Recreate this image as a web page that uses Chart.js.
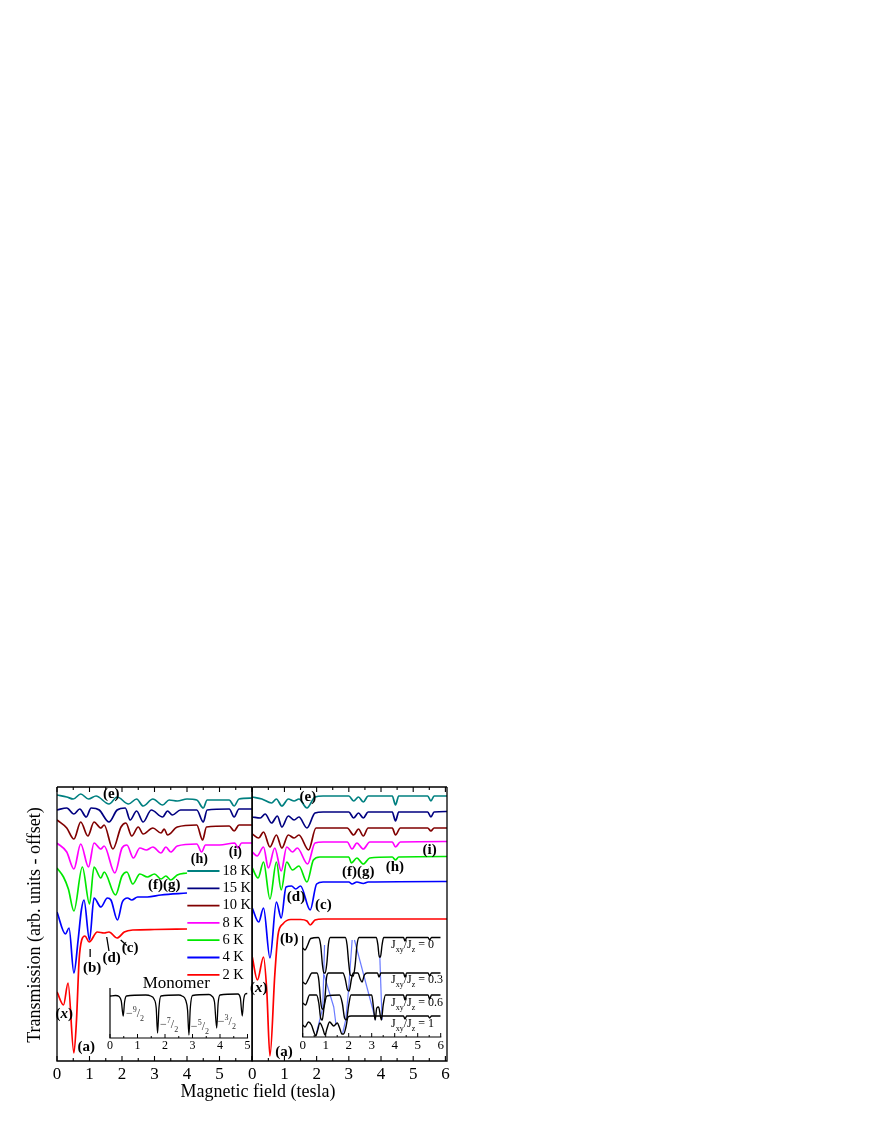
<!DOCTYPE html>
<html><head><meta charset="utf-8">
<script src="https://cdn.jsdelivr.net/npm/chart.js@4.4.1/dist/chart.umd.min.js"></script>
<style>
html,body{margin:0;padding:0;background:#fff;}
body{width:872px;height:1128px;position:relative;overflow:hidden;font-family:'Liberation Serif','Times New Roman',serif;}
canvas{position:absolute;}
#xtitle{position:absolute;left:108px;top:1081px;width:300px;height:20px;line-height:20px;text-align:center;font-size:18px;color:#000;}
#ytitle{position:absolute;left:-116px;top:915px;width:300px;height:20px;line-height:20px;text-align:center;font-size:18px;color:#000;transform:rotate(-90deg);}
</style></head>
<body>
<canvas id="cL" width="222" height="305" style="left:40px;top:780px"></canvas>
<canvas id="cR" width="212" height="305" style="left:245px;top:780px"></canvas>
<canvas id="cLi" width="160" height="92" style="left:100px;top:968px"></canvas>
<canvas id="cRi" width="160" height="125" style="left:292px;top:928px"></canvas>
<div id="xtitle">Magnetic field (tesla)</div>
<div id="ytitle">Transmission (arb. units - offset)</div>
<script>
// ---------------- DATA ----------------
const temps = ['18 K','15 K','10 K','8 K','6 K','4 K','2 K'];
// left panel (field in tesla, transmission with offset, arb. units)
const L18 = [[0,266],[0.3,264],[0.5,262],[0.73,267],[0.97,262],[1.2,265],[1.6,257],[1.85,264],[2.2,257],[2.45,262],[2.65,255],[2.95,262],[3.25,256],[3.45,261],[3.7,260],[4.0,262],[4.3,261],[4.5,253],[4.62,261],[5.3,261],[5.45,255],[5.6,262],[6,263]];
const L15 = [[0,251],[0.3,253],[0.52,247],[0.7,252],[0.9,244],[1.05,253],[1.3,251],[1.6,239],[1.85,251],[2.1,253],[2.25,241],[2.45,250],[2.65,239],[2.9,251],[3.25,244],[3.4,250],[3.55,246],[3.8,251],[4.3,251],[4.5,239],[4.62,251],[5.3,252],[5.45,244],[5.6,252],[6,252]];
const L10 = [[0,241],[0.3,233],[0.52,222],[0.73,239],[0.95,225],[1.14,239],[1.35,233],[1.45,236],[1.72,212],[1.97,234],[2.12,238],[2.3,225],[2.5,234],[2.65,227],[2.95,233],[3.2,228],[3.3,232],[3.4,226],[3.7,234],[4.3,236],[4.48,221],[4.6,234],[5.3,235],[5.45,230],[5.6,236],[6,236]];
const L8 = [[0,218],[0.3,209],[0.52,192],[0.73,217],[0.97,194],[1.14,218],[1.35,212],[1.45,215],[1.78,188],[2.0,213],[2.15,216],[2.35,203],[2.55,213],[2.75,211],[2.95,214],[3.2,208],[3.35,214],[3.5,209],[3.7,215],[4.3,217],[4.45,209],[4.57,216],[5.0,216],[5.47,218],[5.57,213],[5.68,218],[6,218]];
const L6 = [[0,193],[0.2,184],[0.35,172],[0.52,150],[0.78,194],[1.0,157],[1.14,194],[1.35,183],[1.45,189],[1.8,166],[2.0,185],[2.15,189],[2.33,177],[2.55,187],[2.78,184],[3.0,187],[3.2,182],[3.35,185],[3.5,181],[3.7,186],[4.0,188]];
const L4 = [[0,149],[0.26,127],[0.37,133],[0.52,88],[0.65,121],[0.75,151],[0.83,161],[1.0,121],[1.14,163],[1.35,154],[1.55,163],[1.66,161],[1.86,141],[2.01,159],[2.17,163],[2.3,161],[2.48,164],[2.78,164],[3.2,166],[4.0,168]];
const L2 = [[0,69],[0.2,56],[0.34,78],[0.52,8],[0.6,41],[0.68,101],[0.76,121],[0.86,125],[0.99,119],[1.24,129],[1.45,128],[1.6,129],[1.85,123],[2.07,129],[2.33,131],[3,131.5],[4,132]];
// right panel
const R18 = [[0,264],[0.3,262],[0.6,258],[0.75,262],[0.92,255],[1.12,262],[1.3,260],[1.45,262],[1.7,253],[1.95,264],[2.2,265],[3.0,265],[3.15,260],[3.3,264],[3.45,259],[3.6,265],[4.35,265],[4.45,256],[4.55,265],[5.45,265],[5.55,260],[5.65,265],[6.05,265]];
const R15 = [[0,244],[0.25,243],[0.4,247],[0.6,238],[0.78,245],[0.92,234],[1.12,245],[1.3,241],[1.45,244],[1.7,233],[1.95,248],[2.2,249],[3.0,249],[3.15,243],[3.3,248],[3.45,243],[3.6,249],[4.35,249],[4.45,240],[4.55,249],[5.45,249],[5.55,244],[5.65,249],[6.05,249.5]];
const R10 = [[0,227],[0.2,223],[0.35,229],[0.55,214],[0.75,226],[0.92,213],[1.12,226],[1.3,223],[1.45,226],[1.75,211],[1.98,233],[2.2,233],[2.95,233],[3.15,226],[3.3,232],[3.45,225],[3.6,233],[4.35,233],[4.45,226],[4.6,233],[5.45,233],[5.55,230],[5.65,233],[6.05,233]];
const R8 = [[0,209],[0.15,205],[0.35,214],[0.5,193],[0.7,213],[0.9,190],[1.07,214],[1.25,209],[1.4,213],[1.72,197],[1.95,218],[2.2,219],[2.95,219],[3.1,212],[3.25,218],[3.45,212],[3.65,219],[4.35,219],[4.45,214],[4.6,219],[6.05,219.5]];
const R6 = [[0,193],[0.18,183],[0.35,199],[0.55,162],[0.75,199],[0.9,171],[1.07,199],[1.25,191],[1.45,195],[1.7,179],[1.9,201],[2.1,204],[3.0,204],[3.08,198],[3.25,203],[3.45,197],[3.65,203],[4.35,204],[4.45,201],[4.55,204],[6.05,204.5]];
const R4 = [[0,153],[0.2,139],[0.35,153],[0.55,103],[0.75,159],[0.9,143],[1.05,174],[1.22,175],[1.35,172],[1.5,175],[1.8,151],[2.0,177],[2.2,179],[3.0,179],[3.1,177],[3.25,179],[3.45,177.5],[3.6,179],[6.05,179.5]];
const R2 = [[0,104],[0.16,81],[0.35,104],[0.45,71],[0.55,5],[0.7,86],[0.8,126],[0.95,137],[1.2,141.5],[1.5,141.5],[1.7,140],[1.8,136],[1.95,141],[2.2,142],[6.05,142]];
// monomer inset
const monomer = [[0,42],[0.2,42.5],[0.33,41.5],[0.41,37],[0.48,22],[0.53,36],[0.6,42],[1.3,43],[1.48,42],[1.6,39],[1.68,30],[1.73,5],[1.78,30],[1.85,42],[2.5,43],[2.62,42],[2.75,38],[2.82,28],[2.87,3],[2.92,30],[3.0,42.5],[3.6,43.5],[3.7,42],[3.8,36],[3.88,10],[3.93,34],[4.0,43],[4.65,44],[4.74,40],[4.81,22],[4.86,38],[4.92,44],[5.0,44.5]];
// simulation inset (Jxy/Jz = 0, 0.3, 0.6, 1)
const sim0 = [[0,89],[0.1,87],[0.2,91],[0.35,98.5],[0.68,99.5],[0.78,92],[0.86,72],[0.92,64],[0.98,64],[1.05,74],[1.12,93],[1.2,99.5],[1.85,99.5],[1.93,92],[2.0,74],[2.07,62],[2.2,61],[2.28,72],[2.36,92],[2.45,99.5],[3.2,99.5],[3.27,92],[3.33,80],[3.38,80],[3.45,92],[3.52,99.5],[4.38,99.5],[4.45,96],[4.52,99.5],[5.45,99.5],[5.52,97],[5.6,99.5],[6,99.5]];
const sim03 = [[0,55],[0.12,53],[0.25,58],[0.4,64],[0.62,64],[0.7,57],[0.78,36],[0.84,28],[0.9,28],[0.97,40],[1.04,60],[1.12,64],[1.75,64],[1.85,58],[1.95,47],[2.02,46],[2.12,58],[2.2,64],[2.4,64],[2.5,58],[2.58,55],[2.68,62],[2.8,64],[3.25,64],[3.32,60],[3.4,64],[4.38,64],[4.45,60],[4.52,64],[5.45,64],[5.52,61],[5.6,64],[6,64]];
const sim06 = [[0,34],[0.12,32],[0.3,42],[0.6,42],[0.7,34],[0.78,19],[0.85,17],[0.93,30],[1.05,41],[1.6,42],[1.72,34],[1.82,19],[1.9,17],[2.0,32],[2.1,42],[3.0,42],[3.08,29],[3.15,17],[3.22,29],[3.3,30],[3.42,17],[3.5,32],[3.6,42],[4.38,42],[4.45,37],[4.52,42],[5.45,42],[5.52,38],[5.6,42],[6,42]];
const sim1 = [[0,12],[0.1,10],[0.25,15],[0.38,12],[0.5,4],[0.57,1],[0.64,6],[0.75,14],[0.88,8],[0.97,2],[1.05,8],[1.17,15],[1.35,11],[1.5,14],[1.62,8],[1.7,3],[1.78,3],[1.88,10],[1.97,20],[2.1,21],[4.38,21],[4.45,18],[4.52,21],[5.45,21],[5.52,19],[5.6,21],[6,21]];
const simGuides = [
  [[0.95,92],[0.87,29],[0.6,4]],
  [[0.93,62],[1.35,30],[1.45,12]],
  [[2.15,97],[1.99,46],[1.87,17],[1.74,4]],
  [[2.25,97],[3.17,17]],
  [[3.35,82],[3.45,17]]
];
const simLabels = ['0','0.3','0.6','1'];
const monoLabels = ['9','7','5','3'];

// ---------------- STYLE / DRAW ----------------
const FONT = "'Liberation Serif','Times New Roman',serif";
Chart.defaults.font.family = FONT;
Chart.defaults.color = '#000';
const colors = ['#008080','#000080','#800000','#ff00ff','#00e800','#0000ff','#ff0000'];

function drawParts(ctx, parts, px, py, align, color){
  let w = 0;
  parts.forEach(p=>{ ctx.font = `${p.style||'normal'} ${p.weight||'normal'} ${p.size}px ${FONT}`; p._w = ctx.measureText(p.s).width; w += p._w; });
  let x0 = align==='left' ? px : (align==='right' ? px-w : px-w/2);
  ctx.fillStyle = color; ctx.textBaseline = 'middle'; ctx.textAlign = 'left';
  parts.forEach(p=>{ ctx.font = `${p.style||'normal'} ${p.weight||'normal'} ${p.size}px ${FONT}`; ctx.fillText(p.s, x0, py+(p.dy||0)); x0 += p._w; });
}

const framePlugin = {
  id:'frame',
  afterDatasetsDraw(chart){
    const o = chart.options.plugins.frame; if(!o) return;
    const ctx = chart.ctx, a = chart.chartArea, x = chart.scales.x;
    ctx.save(); ctx.strokeStyle = '#000'; ctx.lineWidth = o.lw;
    ctx.beginPath();
    const s = o.sides;
    if(s.includes('l')){ctx.moveTo(a.left,a.top);ctx.lineTo(a.left,a.bottom);}
    if(s.includes('r')){ctx.moveTo(a.right,a.top);ctx.lineTo(a.right,a.bottom);}
    if(s.includes('t')){ctx.moveTo(a.left,a.top);ctx.lineTo(a.right,a.top);}
    if(s.includes('b')){ctx.moveTo(a.left-o.lw/2,a.bottom);ctx.lineTo(a.right+o.lw/2,a.bottom);}
    ctx.stroke();
    ctx.lineWidth = o.tw; ctx.beginPath();
    const majors = x.ticks.map(t=>t.value);
    const marks = [];
    majors.forEach((v,i)=>{ marks.push([v,o.major]); if(i<majors.length-1) marks.push([(v+majors[i+1])/2,o.minor]); });
    marks.forEach(([v,L])=>{
      const px = x.getPixelForValue(v);
      ctx.moveTo(px,a.bottom); ctx.lineTo(px,a.bottom-L);
      if(o.top){ ctx.moveTo(px,a.top); ctx.lineTo(px,a.top+L); }
    });
    ctx.stroke(); ctx.restore();
  }
};

const annoPlugin = {
  id:'anno',
  afterDatasetsDraw(chart){
    const o = chart.options.plugins.anno; if(!o) return;
    const ctx = chart.ctx, X = chart.scales.x, Y = chart.scales.y;
    ctx.save();
    (o.lines||[]).forEach(l=>{
      ctx.strokeStyle = l.color||'#000'; ctx.lineWidth = l.w||1.2; ctx.beginPath();
      l.pts.forEach(([x,y],i)=>{ const px=X.getPixelForValue(x), py=Y.getPixelForValue(y); i?ctx.lineTo(px,py):ctx.moveTo(px,py); });
      ctx.stroke();
    });
    (o.texts||[]).forEach(t=>drawParts(ctx, t.parts, X.getPixelForValue(t.x), Y.getPixelForValue(t.y), t.align||'center', t.color||'#000'));
    if(o.legend){
      const g = o.legend;
      temps.forEach((lab,i)=>{
        const y = Y.getPixelForValue(g.y0 - i*g.dy);
        ctx.strokeStyle = colors[i]; ctx.lineWidth = 1.8; ctx.beginPath();
        ctx.moveTo(X.getPixelForValue(g.x1), y); ctx.lineTo(X.getPixelForValue(g.x2), y); ctx.stroke();
        drawParts(ctx, [{s:lab,size:g.size}], X.getPixelForValue(g.xt), y, 'left', '#000');
      });
    }
    ctx.restore();
  }
};

const B = (s,size)=>[{s, size:size||15, weight:'bold'}];
const BX = (size)=>[{s:'(',size,weight:'bold'},{s:'x',size,weight:'bold',style:'italic'},{s:')',size,weight:'bold'}];

function seriesDS(list){
  return list.map((s,i)=>({label:temps[i], data:s.map(([x,y])=>({x,y})), borderColor:colors[i], borderWidth:1.7, pointRadius:0, cubicInterpolationMode:'monotone', fill:false}));
}

function makeChart(id, datasets, cfg){
  return new Chart(document.getElementById(id), {
    type:'line',
    data:{datasets},
    options:{
      responsive:false, animation:false, events:[],
      layout:{autoPadding:false, padding:cfg.pad},
      scales:{
        x:{type:'linear', min:0, max:cfg.xmax, border:{display:false}, grid:{display:false, drawTicks:false},
           ticks:{stepSize:1, includeBounds:false, padding:cfg.tpad, maxRotation:0, autoSkip:false, color:'#000', font:{size:cfg.fs, family:FONT},
                  callback:v=> (cfg.hide!==undefined && v===cfg.hide) ? '' : String(v)},
           afterFit:s=>{ s.height = cfg.axisH; }},
        y:{type:'linear', display:false, min:cfg.ymin, max:cfg.ymax}
      },
      plugins:{legend:{display:false}, tooltip:{enabled:false}, frame:cfg.frame, anno:cfg.anno}
    },
    plugins:[framePlugin, annoPlugin]
  });
}

// left main panel
makeChart('cL', seriesDS([L18,L15,L10,L8,L6,L4,L2]), {
  pad:{left:17,right:10,top:7,bottom:0}, xmax:6, tpad:3, fs:17, axisH:24, hide:6, ymin:0, ymax:274,
  frame:{sides:'lrtb', lw:1.3, tw:1.1, major:5, minor:3, top:true},
  anno:{
    texts:[
      {parts:B('(e)'), x:1.67, y:267},
      {parts:B('(h)',14), x:4.38, y:202},
      {parts:B('(i)',14), x:5.49, y:208.5},
      {parts:B('(f)(g)'), x:3.3, y:176},
      {parts:B('(b)'), x:1.08, y:93},
      {parts:B('(d)'), x:1.68, y:103},
      {parts:B('(c)'), x:2.25, y:112.5},
      {parts:BX(15), x:0.22, y:47},
      {parts:B('(a)'), x:0.9, y:14}
    ],
    lines:[
      {pts:[[1.02,112],[1.02,104]], w:1.3},
      {pts:[[1.53,124],[1.6,110]], w:1.3},
      {pts:[[1.96,121],[2.15,115.5]], w:1.3}
    ],
    legend:{x1:4.01, x2:5.0, xt:5.09, y0:190, dy:17.3, size:14.5}
  }
});

// right main panel
makeChart('cR', seriesDS([R18,R15,R10,R8,R6,R4,R2]), {
  pad:{left:7,right:10,top:7,bottom:0}, xmax:6.05, tpad:3, fs:17, axisH:24, ymin:0, ymax:274,
  frame:{sides:'lrtb', lw:1.3, tw:1.1, major:5, minor:3, top:true},
  anno:{
    texts:[
      {parts:B('(e)'), x:1.73, y:264},
      {parts:B('(i)'), x:5.51, y:211},
      {parts:B('(h)'), x:4.43, y:194},
      {parts:B('(f)(g)'), x:3.29, y:189},
      {parts:B('(d)'), x:1.36, y:163.5},
      {parts:B('(c)'), x:2.21, y:155.5},
      {parts:B('(b)'), x:1.15, y:122},
      {parts:BX(15), x:0.2, y:72.7},
      {parts:B('(a)'), x:0.99, y:8.5}
    ]
  }
});

// monomer inset
const monoPos = [[0.91,24],[2.15,13],[3.27,11],[4.25,16]];
makeChart('cLi', [{data:monomer.map(([x,y])=>({x,y})), borderColor:'#000', borderWidth:1.3, pointRadius:0, cubicInterpolationMode:'monotone', fill:false}], {
  pad:{left:10,right:12.5,top:20,bottom:0}, xmax:5, tpad:1, fs:12, axisH:22, ymin:0, ymax:50,
  frame:{sides:'lb', lw:1.2, tw:1, major:4, minor:2, top:false},
  anno:{
    texts:[{parts:[{s:'Monomer', size:17}], x:2.41, y:54}].concat(
      monoLabels.map((n,i)=>({parts:[{s:'\u2212',size:12},{s:n,size:8,dy:-4},{s:'/',size:12},{s:'2',size:8,dy:5}], x:monoPos[i][0], y:monoPos[i][1], color:'#333'})))
  }
});

// simulation inset
const simY = [92,57,34.5,13];
makeChart('cRi', [sim0,sim03,sim06,sim1].map(s=>({data:s.map(([x,y])=>({x,y})), borderColor:'#000', borderWidth:1.4, pointRadius:0, cubicInterpolationMode:'monotone', fill:false}))
  .concat(simGuides.map(g=>({data:g.map(([x,y])=>({x,y})), borderColor:'rgba(80,100,255,0.85)', borderWidth:1.2, pointRadius:0, tension:0, fill:false}))), {
  pad:{left:10.7,right:11.3,top:8,bottom:0}, xmax:6, tpad:1, fs:13, axisH:16, ymin:0, ymax:101,
  frame:{sides:'lb', lw:1.2, tw:1, major:4, minor:2, top:false},
  anno:{
    texts: simLabels.map((v,i)=>({parts:[{s:'J',size:12},{s:'xy',size:8,dy:5},{s:'/J',size:12},{s:'z',size:8,dy:5},{s:' = '+v,size:12}], x:3.84, y:simY[i], align:'left'}))
  }
});
</script>
</body></html>
